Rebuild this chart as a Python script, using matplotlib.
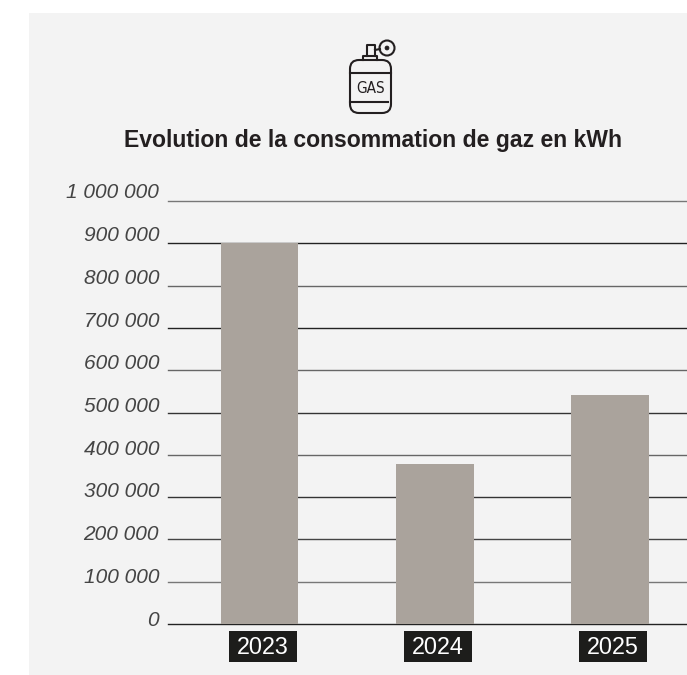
import matplotlib
matplotlib.use("Agg")
import matplotlib.pyplot as plt
from matplotlib.patches import FancyBboxPatch, Circle, Rectangle

W, H = 687, 675
years = ["2023", "2024", "2025"]
values = [900000, 378000, 542000]
ticks = [0, 100000, 200000, 300000, 400000, 500000, 600000, 700000, 800000, 900000, 1000000]
tick_labels = ["0", "100 000", "200 000", "300 000", "400 000", "500 000",
               "600 000", "700 000", "800 000", "900 000", "1 000 000"]
grid_colors = ["#222222", "#777777", "#444444", "#333333", "#666666", "#333333",
               "#666666", "#222222", "#666666", "#222222", "#777777"]
title = "Evolution de la consommation de gaz en kWh"

plt.rcParams["font.family"] = ["Liberation Sans", "DejaVu Sans"]
fig = plt.figure(figsize=(W / 100, H / 100), dpi=100, facecolor="white")

# Background panel
bg = fig.add_axes([29 / W, 0, 1 - 29 / W, 1 - 13 / H], zorder=0)
bg.set_facecolor("#f3f3f3")
bg.set_xticks([]); bg.set_yticks([])
for s in bg.spines.values():
    s.set_visible(False)

# Main chart
left, right, top, bottom = 168, 687, 201, 624
ax = fig.add_axes([left / W, 1 - bottom / H, (right - left) / W, (bottom - top) / H], zorder=1)
ax.patch.set_alpha(0)
step = 175.1
first = 259.7
ax.set_xlim((left - first) / step, (right - first) / step)
ax.set_ylim(0, 1000000)
for t, c in zip(ticks, grid_colors):
    ax.axhline(t, color=c, lw=1.0, zorder=1, clip_on=False)
ax.bar(range(len(years)), values, width=77.5 / step, color="#aaa39c", zorder=2)
for s in ax.spines.values():
    s.set_visible(False)
ax.set_xticks([])
ax.set_yticks([])

# Y labels sit above their lines, by an amount that grows slightly up the scale
px = 0.72
for t, lab in zip(ticks, tick_labels):
    ax.annotate(lab, xy=(0, t), xycoords=("axes fraction", "data"),
                xytext=(-9 * px, (4 + 4 * t / ticks[-1]) * px), textcoords="offset points",
                ha="right", va="center", style="italic", fontsize=15, color="#444444",
                annotation_clip=False)

# Overlay in pixel coordinates for year tags, title and icon
ov = fig.add_axes([0, 0, 1, 1], zorder=3)
ov.set_xlim(0, W); ov.set_ylim(H, 0); ov.axis("off")
for i, y in enumerate(years):
    xc = first + i * step + 3.3
    ov.add_patch(Rectangle((xc - 34, 630.5), 68, 31.5, fc="#1d1d1b", ec="none"))
    ov.text(xc, 647, y, ha="center", va="center", fontsize=16.8, color="white")

ov.text(373, 140, title, ha="center", va="center", fontsize=16.6, fontweight="bold", color="#231f20")

ic = "#231f20"; lw = 1.5
ov.add_patch(FancyBboxPatch((350, 60), 41, 53, boxstyle="round,pad=0,rounding_size=9", fc="none", ec=ic, lw=lw))
ov.plot([350, 391], [72.5, 72.5], color=ic, lw=lw)
ov.plot([350, 388], [102, 102], color=ic, lw=lw)
ov.plot([363, 363, 377, 377], [60, 56, 56, 60], color=ic, lw=lw)
ov.plot([367, 367, 375, 375], [56, 44.5, 44.5, 56], color=ic, lw=lw)
ov.plot([375, 380], [50, 49], color=ic, lw=lw)
ov.add_patch(Circle((387, 48), 7.5, fc="none", ec=ic, lw=lw))
ov.add_patch(Circle((387, 48), 2, fc=ic, ec=ic, lw=0.5))
ov.text(370.5, 88.5, "GAS", ha="center", va="center", fontsize=11,
        color=ic, family="DejaVu Sans", stretch="condensed")

fig.savefig("out.png", dpi=100)
